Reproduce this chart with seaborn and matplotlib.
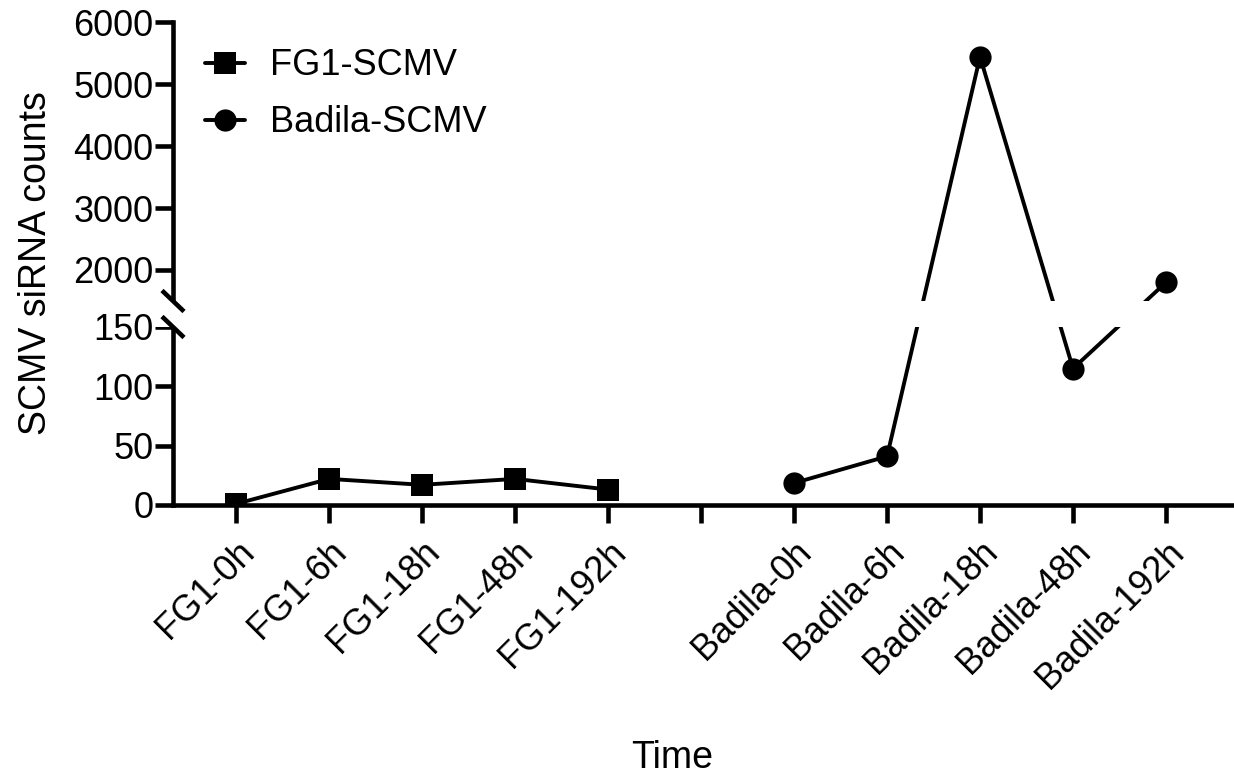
import numpy as np
import pandas as pd
import matplotlib
matplotlib.use("Agg")
import matplotlib.pyplot as plt
import seaborn as sns
from matplotlib.transforms import blended_transform_factory

# ---- data ----
time_labels = ["FG1-0h", "FG1-6h", "FG1-18h", "FG1-48h", "FG1-192h", "",
               "Badila-0h", "Badila-6h", "Badila-18h", "Badila-48h", "Badila-192h"]
fg1_times = ["FG1-0h", "FG1-6h", "FG1-18h", "FG1-48h", "FG1-192h"]
fg1_values = [1, 22, 17, 22, 13]
badila_times = ["Badila-0h", "Badila-6h", "Badila-18h", "Badila-48h", "Badila-192h"]
badila_values = [18.5, 41, 5440, 115, 1800]
series_names = ["FG1-SCMV", "Badila-SCMV"]
low_ticks = [0, 50, 100, 150]
high_ticks = [2000, 3000, 4000, 5000, 6000]

# ---- broken-axis scale (lower 0-150, upper 1500-6000) ----
LOW_MAX, HIGH_MIN, HIGH_MAX = 150.0, 1500.0, 6000.0
H_LOW, H_GAP, H_HIGH = 178.0, 26.0, 279.0


def fwd(y):
    y = np.asarray(y, dtype=float)
    a = y * H_LOW / LOW_MAX
    b = H_LOW + (y - LOW_MAX) / (HIGH_MIN - LOW_MAX) * H_GAP
    c = H_LOW + H_GAP + (y - HIGH_MIN) / (HIGH_MAX - HIGH_MIN) * H_HIGH
    return np.where(y <= LOW_MAX, a, np.where(y < HIGH_MIN, b, c))


def inv(v):
    v = np.asarray(v, dtype=float)
    a = v * LOW_MAX / H_LOW
    b = LOW_MAX + (v - H_LOW) / H_GAP * (HIGH_MIN - LOW_MAX)
    c = HIGH_MIN + (v - H_LOW - H_GAP) / H_HIGH * (HIGH_MAX - HIGH_MIN)
    return np.where(v <= H_LOW, a, np.where(v < H_LOW + H_GAP, b, c))


df = pd.DataFrame({
    "Time": fg1_times + badila_times,
    "Counts": fg1_values + badila_values,
    "Group": [series_names[0]] * len(fg1_times) + [series_names[1]] * len(badila_times),
})
df["pos"] = df["Time"].map({t: i for i, t in enumerate(time_labels)})

sns.set_style("ticks")
plt.rcParams["font.family"] = ["Liberation Sans", "DejaVu Sans"]
plt.rcParams["text.color"] = "black"
plt.rcParams["axes.labelcolor"] = "black"

W, H = 1234, 777
fig = plt.figure(figsize=(W / 100, H / 100), dpi=100)
ax = fig.add_axes([173 / W, 1 - 505 / H, (1232 - 173) / W, (505 - 22) / H])

sns.lineplot(data=df, x="pos", y="Counts", hue="Group", style="Group",
             palette={series_names[0]: "black", series_names[1]: "black"},
             markers={series_names[0]: "s", series_names[1]: "o"},
             dashes=False, linewidth=2.8, markersize=16, markeredgewidth=0,
             ax=ax, legend=True)

ax.set_yscale("function", functions=(fwd, inv))
ax.set_ylim(0, HIGH_MAX)
ax.set_xlim(-0.68, 10.71)
ax.set_yticks(low_ticks + high_ticks)
ax.set_yticklabels([str(t) for t in low_ticks + high_ticks])
ax.yaxis.set_minor_locator(matplotlib.ticker.NullLocator())
ax.set_xticks(range(len(time_labels)))
ax.set_xticklabels(time_labels, rotation=45, ha="right", rotation_mode="anchor")

for s in ["top", "right"]:
    ax.spines[s].set_visible(False)
for s in ["left", "bottom"]:
    ax.spines[s].set_linewidth(3.3)
    ax.spines[s].set_color("black")
ax.tick_params(axis="both", width=3.3, length=13, color="black",
               labelsize=26, labelcolor="black")
ax.tick_params(axis="x", pad=8)
ax.tick_params(axis="y", pad=1)

ax.set_ylabel("SCMV siRNA counts", fontsize=27, labelpad=14)
ax.set_xlabel("Time", fontsize=27)
ax.xaxis.set_label_coords((672 - 173) / (1232 - 173), -(740 - 505) / (505 - 22))

# white gap across the break
trans = blended_transform_factory(ax.transAxes, ax.transData)
gap = matplotlib.patches.Rectangle((-0.02, LOW_MAX), 1.05, HIGH_MIN - LOW_MAX,
                                   transform=trans, facecolor="white",
                                   edgecolor="none", zorder=3, clip_on=False)
ax.add_patch(gap)

# break marks
ah = 505 - 22
aw = 1232 - 173
dx, dy = 11 / aw, 10.5 / ah
for yv in (HIGH_MIN, LOW_MAX):
    ya = ax.transAxes.inverted().transform(ax.transData.transform((0, yv)))[1]
    ax.plot([-dx, dx], [ya + dy, ya - dy], transform=ax.transAxes,
            color="black", linewidth=3.3, clip_on=False, zorder=4,
            solid_capstyle="butt")

handles, labels = ax.get_legend_handles_labels()
leg = ax.legend(handles, labels, loc="upper left", frameon=False, fontsize=26,
                bbox_to_anchor=(0.01, 0.99), handlelength=1.1, handletextpad=0.7,
                labelspacing=0.6, borderaxespad=0.2)

fig.savefig("out.png", dpi=100)
